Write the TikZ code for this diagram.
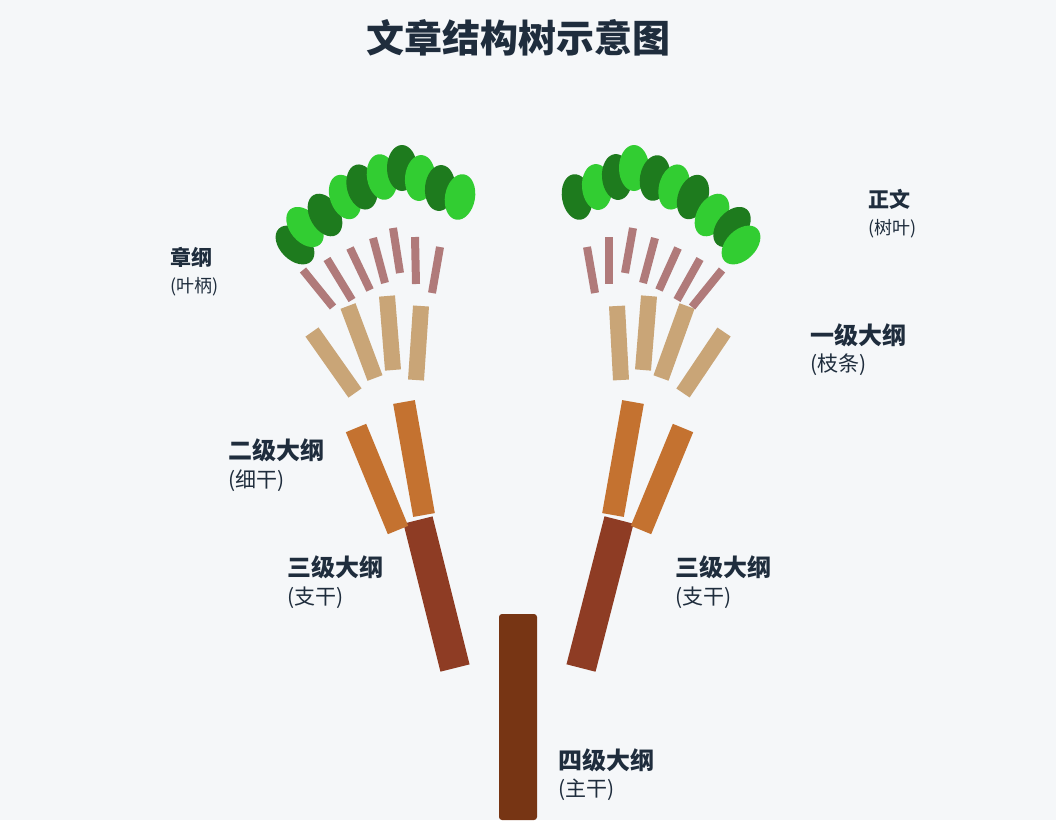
\documentclass[tikz,border=0pt]{standalone}
\usepackage{fontspec}
\setmainfont{Noto Sans CJK SC}
\definecolor{bgcol}{HTML}{F5F7F9}
\definecolor{txtcol}{HTML}{1F2D3D}
\definecolor{trunkcol}{HTML}{773514}
\definecolor{limbcol}{HTML}{8E3C24}
\definecolor{stemcol}{HTML}{C47230}
\definecolor{twigcol}{HTML}{C9A577}
\definecolor{petcol}{HTML}{B07A7A}
\definecolor{leafdark}{HTML}{1E7B1E}
\definecolor{leaflight}{HTML}{32CD32}
\tikzset{
  limb/.style={line width=30pt, limbcol},
  stem/.style={line width=22pt, stemcol},
  twig/.style={line width=16pt, twigcol},
  petiole/.style={line width=8pt, petcol},
  leafd/.style={fill=leafdark},
  leafl/.style={fill=leaflight},
  head/.style={inner sep=0pt, anchor=west, font=\bfseries\fontsize{24}{28}\selectfont, text=txtcol},
  sub/.style={inner sep=0pt, anchor=west, font=\fontsize{21}{24}\selectfont, text=txtcol},
  headsm/.style={inner sep=0pt, anchor=west, font=\bfseries\fontsize{21}{24}\selectfont, text=txtcol},
  subsm/.style={inner sep=0pt, anchor=west, font=\fontsize{18}{21}\selectfont, text=txtcol}
}
\begin{document}
\begin{tikzpicture}[x=1pt,y=-1pt]
\fill[bgcol] (0,0) rectangle (1056,820);
\useasboundingbox (0,0) rectangle (1056,820);
\node[font=\bfseries\fontsize{38}{44}\selectfont, text=txtcol] (title) at (518,38) {文章结构树示意图};
% trunk
\fill[trunkcol, rounded corners=3pt] (499,820) -- (499,614) -- (537,614) -- (537,820) -- cycle;
% branches
\draw[limb] (455,668) -- (418,520);
\draw[limb] (581,668) -- (619,520);
\draw[stem] (356,428) -- (398,530);
\draw[stem] (404,402) -- (424,515);
\draw[stem] (633,402) -- (613,515);
\draw[stem] (683,428) -- (641,530);
% twigs
\foreach \a/\b/\c/\d in {312/332/355/393, 348/306/375/378, 387/296/393/370, 421/306/416/380,
  617/306/621/380, 649/296/643/370, 687/306/661/378, 724/332/683/393}
  \draw[twig] (\a,\b) -- (\c,\d);
% petioles
\foreach \a/\b/\c/\d in {303/270/333/307, 327/259/352/300, 350/248/370/290, 373/238/385/283,
  393/228/400/273, 415/237/416/284, 440/247/432/293,
  587/247/595/293, 609/237/609/284, 633/228/625/273, 655/238/643/283,
  678/248/659/290, 700/259/677/300, 722/270/692/307}
  \draw[petiole] (\a,\b) -- (\c,\d);
% leaves
\foreach \x/\y/\r/\s in {295/245/45/leafd, 305/227/40/leafl, 325/215/30/leafd, 345/197/20/leafl,
  362/187/15/leafd, 382/177/10/leafl, 402/168/0/leafd, 420/178/-5/leafl, 440/188/-5/leafd, 460/197/-10/leafl,
  577/197/10/leafd, 597/187/5/leafl, 617/177/5/leafd, 634/168/0/leafl, 655/178/-10/leafd,
  674/187/-15/leafl, 693/197/-20/leafd, 712/215/-30/leafl, 732/227/-40/leafd, 741/245/-45/leafl}
  \fill[\s, rotate around={\r:(\x,\y)}] (\x,\y) ellipse (15 and 23);
% labels
\node[headsm] (zg) at (170,257) {章纲};
\node[subsm] (zgs) at (170,287) {(叶柄)};
\node[headsm] (zw) at (868,199) {正文};
\node[subsm] (zws) at (868,229) {(树叶)};
\node[head] (l1) at (810,335) {一级大纲};
\node[sub] (l1s) at (810,365) {(枝条)};
\node[head] (l2) at (228,450) {二级大纲};
\node[sub] (l2s) at (228,481) {(细干)};
\node[head] (l3a) at (287,567) {三级大纲};
\node[sub] (l3as) at (287,598) {(支干)};
\node[head] (l3b) at (675,567) {三级大纲};
\node[sub] (l3bs) at (675,598) {(支干)};
\node[head] (l4) at (558,760) {四级大纲};
\node[sub] (l4s) at (558,790) {(主干)};
\end{tikzpicture}
\end{document}
